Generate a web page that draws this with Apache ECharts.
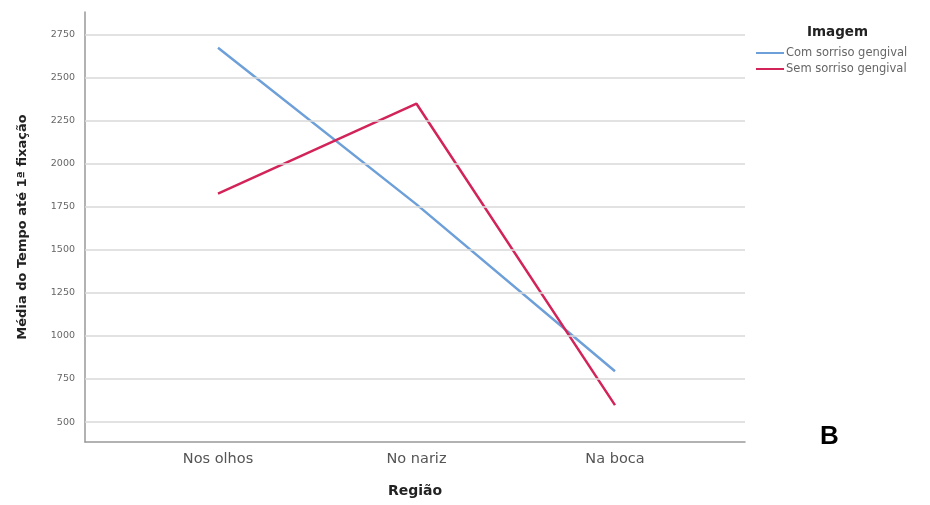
<!DOCTYPE html>
<html><head><meta charset="utf-8">
<script src="https://cdn.jsdelivr.net/npm/echarts@6/dist/echarts.min.js"></script>
<style>html,body{margin:0;padding:0;background:#fff}#c{width:930px;height:505px}</style>
</head><body><div id="c"></div>
<script>
const categories = ['Nos olhos', 'No nariz', 'Na boca'];
const comSorriso = [2675, 1765, 795];
const semSorriso = [1828, 2350, 598];
const yTicks = [500, 750, 1000, 1250, 1500, 1750, 2000, 2250, 2500, 2750];
const seriesNames = ['Com sorriso gengival', 'Sem sorriso gengival'];

const F = 'DejaVu Sans';
const chart = echarts.init(document.getElementById('c'));
const toPts = arr => arr.map((v, i) => [i, v]);
chart.setOption({
  animation: false,
  backgroundColor: '#fff',
  grid: { left: 85, top: 12, right: 185, bottom: 63 },
  title: [
    { text: 'Imagem', left: 802, top: 20, textStyle: { fontFamily: F, fontWeight: 'bold', fontSize: 13.5, color: '#222' } },
    { text: 'B', left: 815, top: 419, textStyle: { fontFamily: 'Liberation Sans', fontWeight: 'bold', fontSize: 26, color: '#000' } }
  ],
  legend: {
    orient: 'vertical', left: 751, top: 42, itemGap: 4,
    icon: 'rect', itemWidth: 28, itemHeight: 2,
    textStyle: { fontFamily: F, fontSize: 11.5, color: '#666', padding: [0, 0, 0, -3] },
    data: seriesNames
  },
  xAxis: {
    type: 'value', min: -0.67, max: 2.655,
    axisLine: { show: true, onZero: false, lineStyle: { color: '#999', width: 1.5 } },
    axisTick: { show: false },
    splitLine: { show: false },
    axisLabel: { customValues: [0, 1, 2], formatter: v => categories[Math.round(v)], fontFamily: F, fontSize: 14.5, color: '#555', margin: 10 },
    name: 'Região', nameLocation: 'middle', nameGap: 42,
    nameTextStyle: { fontFamily: F, fontWeight: 'bold', fontSize: 14, color: '#222' }
  },
  yAxis: {
    type: 'value', min: 384, max: 2883,
    axisLine: { show: true, onZero: false, lineStyle: { color: '#999', width: 1.5 } },
    axisTick: { show: false, customValues: yTicks },
    axisLabel: { customValues: yTicks, formatter: v => String(v), fontFamily: F, fontSize: 9.5, color: '#666', margin: 10 },
    splitLine: { show: false },
    name: 'Média do Tempo até 1ª fixação', nameLocation: 'middle', nameGap: 56,
    nameTextStyle: { fontFamily: F, fontWeight: 'bold', fontSize: 13, color: '#222' }
  },
  series: [
    {
      type: 'line', name: '__grid', data: [], z: 1, silent: true,
      markLine: {
        silent: true, symbol: 'none', label: { show: false },
        lineStyle: { color: '#d9d9d9', width: 1.5, type: 'solid' },
        data: yTicks.map(t => ({ yAxis: t }))
      }
    },
    { type: 'line', name: seriesNames[0], data: toPts(comSorriso), symbol: 'none', z: 3,
      lineStyle: { color: '#6d9fd9', width: 2.5 }, itemStyle: { color: '#6d9fd9' } },
    { type: 'line', name: seriesNames[1], data: toPts(semSorriso), symbol: 'none', z: 4,
      lineStyle: { color: '#d3245a', width: 2.5 }, itemStyle: { color: '#d3245a' } }
  ]
});
</script></body></html>
